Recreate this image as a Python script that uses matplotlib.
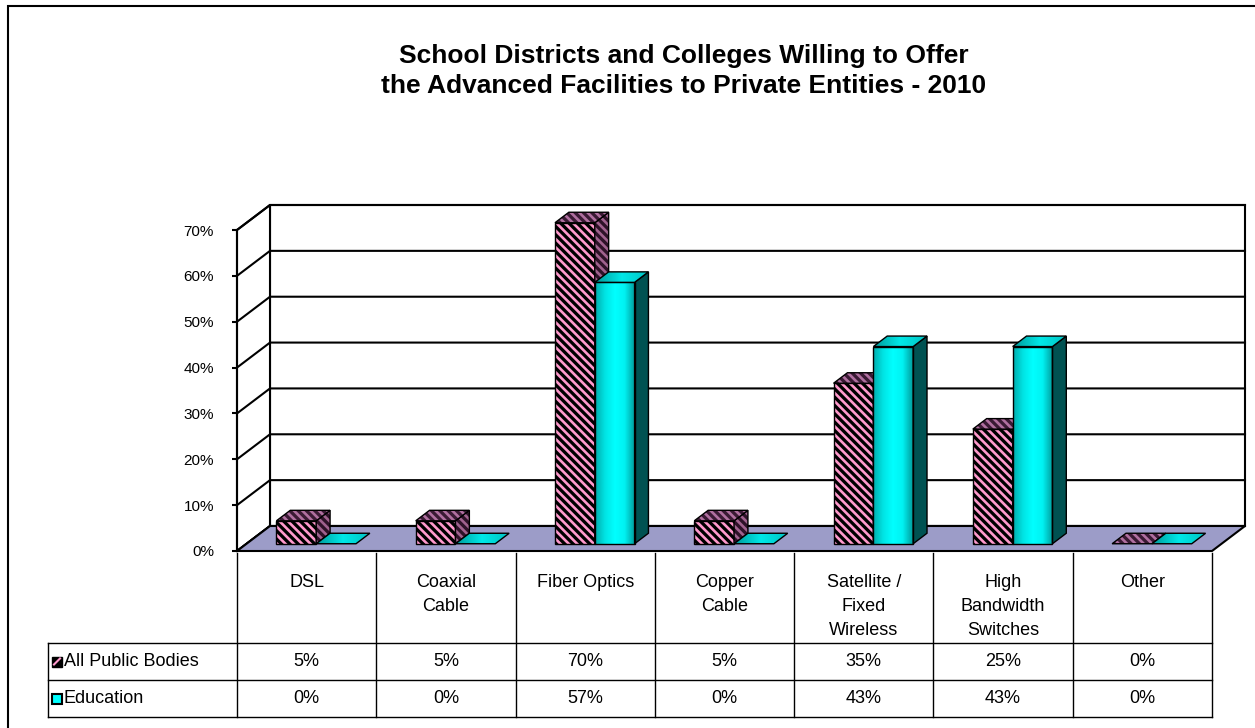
import numpy as np
import matplotlib.pyplot as plt
from matplotlib.patches import Polygon, Rectangle
from matplotlib.colors import LinearSegmentedColormap
from matplotlib.ticker import PercentFormatter

title = ('School Districts and Colleges Willing to Offer\n'
         'the Advanced Facilities to Private Entities - 2010')
categories = ['DSL', 'Coaxial\nCable', 'Fiber Optics', 'Copper\nCable',
              'Satellite /\nFixed\nWireless', 'High\nBandwidth\nSwitches', 'Other']
series_names = ['All Public Bodies', 'Education']
all_public = [0.05, 0.05, 0.70, 0.05, 0.35, 0.25, 0.00]
education = [0.00, 0.00, 0.57, 0.00, 0.43, 0.43, 0.00]
yticks = [0.0, 0.1, 0.2, 0.3, 0.4, 0.5, 0.6, 0.7]

plt.rcParams['font.family'] = ['Liberation Sans', 'DejaVu Sans']
plt.rcParams['hatch.linewidth'] = 1.9

W, H = 1255, 728
fig = plt.figure(figsize=(W / 100, H / 100), dpi=100)


def px_rect(x0, y0, x1, y1):
    # pixel box (top-left origin) -> figure fraction rect
    return [x0 / W, 1 - y1 / H, (x1 - x0) / W, (y1 - y0) / H]


PINK = '#FF99CC'
FLOOR = '#9C9CC8'
HATCH = '\\\\\\\\'
n = len(categories)
ymax = yticks[-1]

ax = fig.add_axes(px_rect(237, 230, 1212, 551))
# depth of the 3d box, in data units
DX = 33 / (975 / n)
DY = 25 / (321 / ymax)

# walls, gridlines and floor
ax.add_patch(Polygon([(DX, DY), (n + DX, DY), (n + DX, ymax + DY), (DX, ymax + DY)],
                     fc='white', ec='black', lw=1.5, clip_on=False, zorder=0.5))
ax.add_patch(Polygon([(0, 0), (DX, DY), (DX, ymax + DY), (0, ymax)],
                     fc='white', ec='black', lw=1.5, clip_on=False, zorder=0.5))
for t in yticks:
    ax.plot([0, DX, n + DX], [t, t + DY, t + DY], color='black', lw=1.5,
            clip_on=False, zorder=1)
ax.add_patch(Polygon([(0, 0), (n, 0), (n + DX, DY), (DX, DY)],
                     fc=FLOOR, ec='black', lw=1.5, clip_on=False, zorder=2))

# bars
gap = 1.5
w = 1 / (2 + gap)
d0, d1 = 0.29, 0.71
fx, fy = d0 * DX, d0 * DY
bx, by = d1 * DX, d1 * DY

cyan_cmap = LinearSegmentedColormap.from_list(
    'cy', ['#00AEAE', '#00E4E4', '#00FFFF', '#00F2F2', '#009E9E'])
cyan_top_cmap = LinearSegmentedColormap.from_list('cyt', ['#009A9A', '#00E8E8', '#00C4C4'])
grad = np.linspace(0, 1, 64).reshape(1, -1)


def faces(x0, x1, v):
    front = [(x0 + fx, fy), (x1 + fx, fy), (x1 + fx, v + fy), (x0 + fx, v + fy)]
    top = [(x0 + fx, v + fy), (x1 + fx, v + fy), (x1 + bx, v + by), (x0 + bx, v + by)]
    side = [(x1 + fx, fy), (x1 + bx, by), (x1 + bx, v + by), (x1 + fx, v + fy)]
    return front, top, side


def gradient_face(pts, cmap, z):
    poly = Polygon(pts, fc='none', ec='black', lw=1, clip_on=False, zorder=z + 0.001)
    ax.add_patch(poly)
    xs = [p[0] for p in pts]
    ys = [p[1] for p in pts]
    im = ax.imshow(grad, cmap=cmap, extent=(min(xs), max(xs), min(ys), max(ys)),
                   aspect='auto', interpolation='bilinear', zorder=z)
    im.set_clip_path(poly)


z = 3
for i in range(n):
    # All Public Bodies - hatched pink
    x0 = i + 0.75 * w
    front, top, side = faces(x0, x0 + w, all_public[i])
    if all_public[i] > 0:
        ax.add_patch(Polygon(front, fc='black', ec=PINK, hatch=HATCH, lw=0,
                             clip_on=False, zorder=z))
        ax.add_patch(Polygon(front, fc='none', ec='black', lw=1, clip_on=False, zorder=z))
        ax.add_patch(Polygon(side, fc='#2E1228', ec='#A0628E', hatch=HATCH, lw=0,
                             clip_on=False, zorder=z))
        ax.add_patch(Polygon(side, fc='none', ec='black', lw=1, clip_on=False, zorder=z))
    ax.add_patch(Polygon(top, fc='#3A1A34', ec='#B070A0', hatch=HATCH, lw=0,
                         clip_on=False, zorder=z))
    ax.add_patch(Polygon(top, fc='none', ec='black', lw=1, clip_on=False, zorder=z))
    z += 0.01

    # Education - cyan with shading
    x0 = i + 0.75 * w + w
    front, top, side = faces(x0, x0 + w, education[i])
    if education[i] > 0:
        gradient_face(front, cyan_cmap, z)
        ax.add_patch(Polygon(side, fc='#005252', ec='black', lw=1, clip_on=False, zorder=z))
    gradient_face(top, cyan_top_cmap, z + 0.002)
    z += 0.01

ax.set_xlim(0, n)
ax.set_ylim(0, ymax)
ax.set_xticks([])
ax.set_yticks(yticks)
ax.yaxis.set_major_formatter(PercentFormatter(1.0, decimals=0))
ax.tick_params(axis='y', direction='out', length=3.6, width=1.5, pad=13, labelsize=11)
for s in ['top', 'right', 'bottom']:
    ax.spines[s].set_visible(False)
ax.spines['left'].set_linewidth(1.5)
ax.spines['left'].set_zorder(2.5)
ax.patch.set_visible(False)

# data table
tax = fig.add_axes(px_rect(48, 553, 1212, 717))
col_w = 975 / n
xl = -(237 - 48) / col_w
tax.set_xlim(xl, n)
tax.set_ylim(164, 0)
tax.axis('off')
head_h, row_h = 90, 37
rows_y = [head_h, head_h + row_h, head_h + 2 * row_h]

for i in range(n + 1):
    tax.plot([i, i], [0, rows_y[-1]], color='black', lw=1, clip_on=False)
tax.plot([xl, xl], [head_h, rows_y[-1]], color='black', lw=1, clip_on=False)
for y in rows_y:
    tax.plot([xl, n], [y, y], color='black', lw=1, clip_on=False)

for i, cat in enumerate(categories):
    tax.text(i + 0.5, 21, cat, ha='center', va='top', fontsize=13, linespacing=1.52)
    tax.text(i + 0.5, head_h + row_h / 2, f'{all_public[i]:.0%}',
             ha='center', va='center', fontsize=13)
    tax.text(i + 0.5, head_h + row_h * 1.5, f'{education[i]:.0%}',
             ha='center', va='center', fontsize=13)

kw, kh = 10 / col_w, 10
for r, name in enumerate(series_names):
    cy = head_h + row_h * (r + 0.5)
    kx = xl + 4 / col_w
    if r == 0:
        tax.add_patch(Rectangle((kx, cy - kh / 2), kw, kh, fc='black', ec='black',
                                lw=1, clip_on=False))
        tax.plot([kx + kw * 0.2, kx + kw * 0.8], [cy + kh * 0.3, cy - kh * 0.3],
                 color=PINK, lw=1.5, clip_on=False)
    else:
        tax.add_patch(Rectangle((kx, cy - kh / 2), kw, kh, fc='#00FFFF', ec='black',
                                lw=1.5, clip_on=False))
    tax.text(xl + 16 / col_w, cy, name, ha='left', va='center', fontsize=13)

# chart frame and title
fig.add_artist(Rectangle((8 / W, -0.05), 1.2, 1 - 6 / H + 0.05, transform=fig.transFigure,
                         fill=False, ec='black', lw=1.5))
fig.text(684 / W, 1 - 44 / H, title, ha='center', va='top', fontsize=19,
         fontweight='bold', linespacing=1.3)

fig.savefig('out.png', dpi=100)
